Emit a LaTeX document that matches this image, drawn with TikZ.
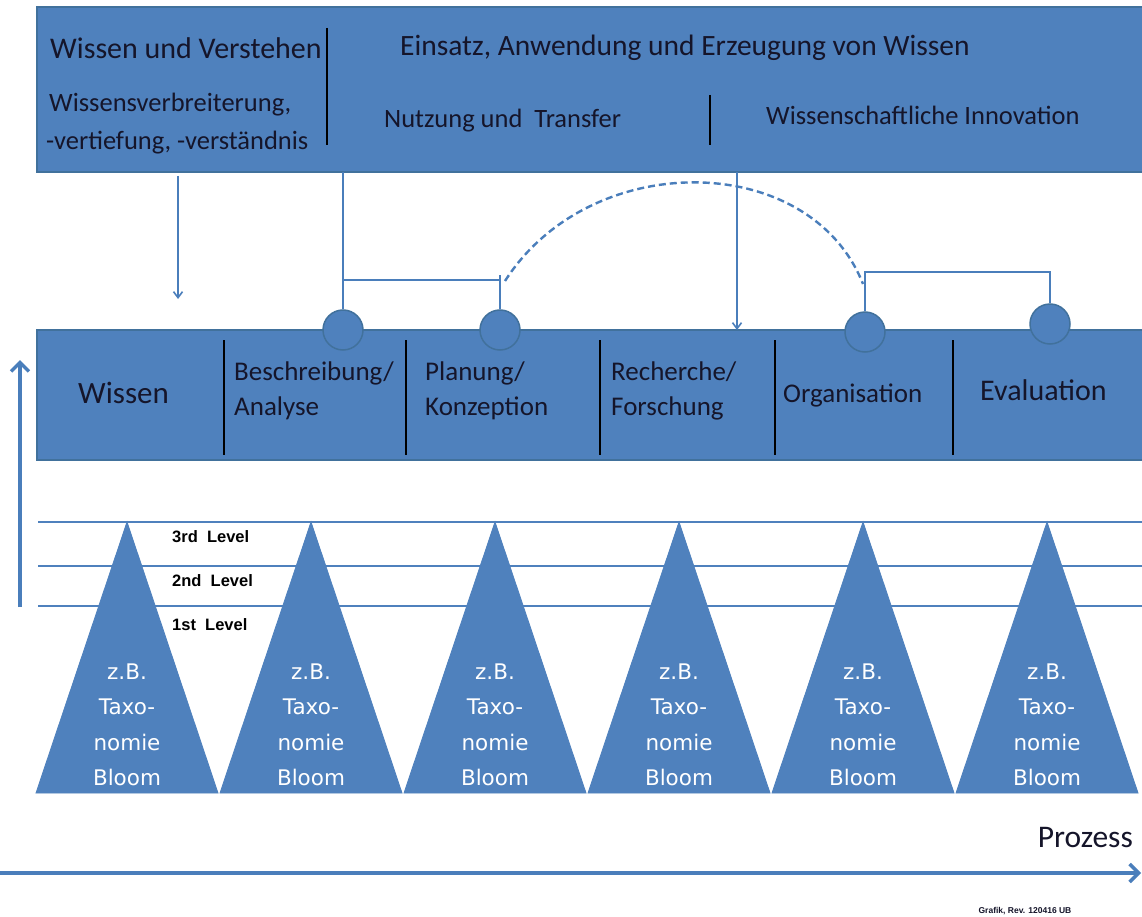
\documentclass[tikz,border=0pt]{standalone}
\usepackage{fontspec}
\setmainfont{Carlito}
\newfontfamily\trifont{DejaVu Sans}
\newfontfamily\lvlfont{Liberation Sans}
\usetikzlibrary{arrows.meta}
\definecolor{bfill}{HTML}{4F81BD}
\definecolor{bdraw}{HTML}{41719C}
\definecolor{lblue}{HTML}{4A7EBB}
\definecolor{tdark}{HTML}{15152A}
\newcommand{\fsz}[2]{\fontsize{#1}{#2}\selectfont}
\begin{document}
\begin{tikzpicture}[x=1pt,y=-1pt,
  boxshape/.style={draw=bdraw,fill=bfill,line width=1.5pt,inner sep=0pt,outer sep=0pt},
  lbl/.style={inner sep=0pt,text=tdark,anchor=west,align=left},
  divider/.style={draw=black,line width=1.8pt},
  conn/.style={draw=lblue,line width=1.6pt},
  smallhead/.style={-{Straight Barb[length=6pt,width=9pt,line width=1.6pt]}},
  bighead/.style={draw=lblue,line width=3.5pt,-{Straight Barb[length=9pt,width=18pt,line width=3.5pt]}},
  circ/.style={circle,draw=bdraw,fill=bfill,line width=1.5pt,minimum size=40pt,inner sep=0pt},
  lvlline/.style={draw=bfill,line width=2.4pt},
  tri/.style={fill=bfill,draw=bfill,line width=0.8pt},
  tritext/.style={text=white,align=center,inner sep=0pt,font=\trifont\fsz{21.5}{35.5}},
  lvltext/.style={inner sep=0pt,anchor=west,text=black,font=\lvlfont\bfseries\fsz{16.5}{18}}
]
\useasboundingbox (0,0) rectangle (1142,917);
\fill[white] (0,0) rectangle (1142,917);

% top box
\node[boxshape,minimum width=1110pt,minimum height=165pt] (top) at (592,89.5) {};
\node[lbl,font=\fsz{30}{32}] (t1) at (50,48) {Wissen und Verstehen};
\node[lbl,font=\fsz{26.5}{28}] (t2) at (49,105) {Wissensverbreiterung,};
\node[lbl,font=\fsz{26.5}{28}] (t3) at (46,143) {-vertiefung, -verständnis};
\draw[divider] (327,28) -- (327,145);
\node[lbl,font=\fsz{29.5}{32}] (t4) at (400,48) {Einsatz, Anwendung und Erzeugung von Wissen};
\node[lbl,font=\fsz{26.5}{28}] (t5) at (384,121) {Nutzung und\ \ Transfer};
\draw[divider] (710,95) -- (710,145);
\node[lbl,font=\fsz{26.5}{28}] (t6) at (766,115) {Wissenschaftliche Innovation};

% middle box
\node[boxshape,minimum width=1110pt,minimum height=130pt] (mid) at (592,395) {};
\node[lbl,font=\fsz{31}{32}] (m1) at (78,393) {Wissen};
\draw[divider] (224,340) -- (224,455);
\node[lbl,font=\fsz{27}{35}] (m2) at (234,391) {Beschreibung/\\Analyse};
\draw[divider] (406,340) -- (406,455);
\node[lbl,font=\fsz{27}{35}] (m3) at (425,391) {Planung/\\Konzeption};
\draw[divider] (600,340) -- (600,455);
\node[lbl,font=\fsz{27}{35}] (m4) at (611,391) {Recherche/\\Forschung};
\draw[divider] (775,340) -- (775,455);
\node[lbl,font=\fsz{27}{30}] (m5) at (783,395) {Organisation};
\draw[divider] (953,340) -- (953,455);
\node[lbl,font=\fsz{30}{32}] (m6) at (980,390) {Evaluation};

% circles
\node[circ] (c1) at (343,330) {};
\node[circ] (c2) at (500,330) {};
\node[circ] (c3) at (865,332) {};
\node[circ] (c4) at (1050,324) {};

% connectors
\coordinate (a1s) at (178,176);
\coordinate (a1e) at (178,299);
\draw[conn,smallhead] (a1s) -- (a1e);

\coordinate (b1) at (343,280);
\coordinate (b2) at (500,280);
\coordinate (b2t) at (500,275);
\draw[conn] (top.south -| c1.north) -- (c1.north);
\draw[conn] (b1) -- (b2);
\draw[conn] (b2t) -- (c2.north);

\coordinate (dA) at (505,281);
\coordinate (dB) at (863,284);
\draw[conn,line width=2.4pt,dash pattern=on 7pt off 4pt] (dA) .. controls (590,148) and (810,150) .. (dB);

\coordinate (e1) at (865,272);
\coordinate (e2) at (1050,272);
\draw[conn] (c3.north) -- (e1) -- (e2) -- (c4.north);

\coordinate (f1) at (737,172);
\draw[conn,smallhead] (f1) -- (mid.north -| f1);

% level lines
\coordinate (l3a) at (38,522); \coordinate (l3b) at (1145,522);
\coordinate (l2a) at (38,566); \coordinate (l2b) at (1145,566);
\coordinate (l1a) at (38,606); \coordinate (l1b) at (1145,606);
\draw[lvlline] (l3a) -- (l3b);
\draw[lvlline] (l2a) -- (l2b);
\draw[lvlline] (l1a) -- (l1b);

% triangles
\foreach \i in {0,...,5}{
  \pgfmathsetmacro{\ax}{127+184*\i}
  \fill[tri] (\ax-91,793) -- (\ax,522) -- (\ax+91,793) -- cycle;
  \node[tritext] (tt\i) at (\ax,725) {z.B.\\Taxo-\\nomie\\Bloom};
}

\node[lvltext] (v3) at (172,537) {3rd\ \ Level};
\node[lvltext] (v2) at (172,581) {2nd\ \ Level};
\node[lvltext] (v1) at (172,625) {1st\ \ Level};

% left vertical arrow
\coordinate (la1) at (20,607);
\coordinate (la2) at (20,360);
\draw[bighead] (la1) -- (la2);

% bottom arrow
\coordinate (pa1) at (0,873);
\coordinate (pa2) at (1141,873);
\draw[bighead] (pa1) -- (pa2);
\node[lbl,anchor=east,font=\fsz{31.5}{32}] (proz) at (1133,838) {Prozess};
\node[inner sep=0pt,text=tdark,font=\lvlfont\bfseries\fsz{8.5}{10}] (graf) at (1025,911) {Grafik, Rev. 120416 UB};
\end{tikzpicture}
\end{document}
